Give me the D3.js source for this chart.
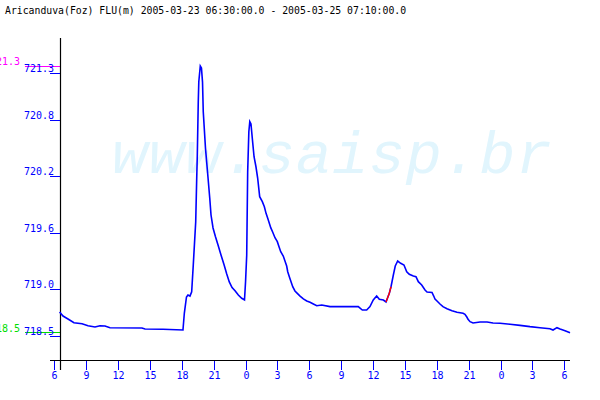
<!DOCTYPE html>
<html><head><meta charset="utf-8">
<script src="https://cdn.jsdelivr.net/npm/d3@7"></script>
<style>html,body{margin:0;padding:0;background:#fff;}svg{display:block;}</style>
</head><body>
<script>
const titleText = "Aricanduva(Foz) FLU(m) 2005-03-23 06:30:00.0 - 2005-03-25 07:10:00.0";
const watermark = "www.saisp.br";
// hours since 2005-03-23 00:00
const hours = [6.5,6.82,7.29,7.85,8.61,9.17,9.83,10.30,10.77,11.24,14.25,14.54,16.23,18.11,18.24,18.44,18.58,18.77,18.93,19.08,19.31,19.40,19.46,19.55,19.60,19.74,19.85,19.95,20.02,20.23,20.42,20.63,20.75,20.94,21.17,21.41,21.69,21.97,22.23,22.47,22.73,23.01,23.32,23.64,23.90,24.00,24.11,24.20,24.31,24.40,24.51,24.65,24.80,24.98,25.14,25.33,25.58,25.77,25.93,26.11,26.37,26.56,26.77,26.99,27.15,27.31,27.55,27.71,27.87,27.97,28.12,28.28,28.44,28.65,28.87,29.13,29.44,29.76,30.07,30.38,30.70,31.17,31.95,34.61,34.99,35.40,35.71,36.02,36.34,36.59,36.97,37.22,37.53,37.69,37.91,38.09,38.32,38.60,38.91,39.17,39.41,39.79,40.04,40.26,40.58,40.89,41.08,41.55,41.71,41.83,42.02,42.30,42.58,42.96,43.43,43.90,44.47,44.65,44.84,44.94,45.13,45.41,46.07,46.73,47.29,47.95,48.89,49.83,50.77,51.71,52.65,52.94,53.31,53.60,54.07,54.54];
const levels = [718.755,718.712,718.681,718.641,718.630,718.609,718.595,718.609,718.606,718.588,718.585,718.574,718.571,718.563,718.744,718.915,718.936,718.925,718.971,719.256,719.717,720.161,720.427,720.995,721.208,721.375,721.354,721.204,720.888,720.498,720.249,719.969,719.788,719.650,719.557,719.469,719.362,719.261,719.160,719.075,719.016,718.982,718.936,718.901,718.883,719.078,719.362,720.249,720.675,720.782,720.757,720.587,720.409,720.302,720.182,719.983,719.930,719.876,719.806,719.745,719.653,719.604,719.546,719.504,719.450,719.397,719.351,719.298,719.245,719.184,719.131,719.078,719.024,718.979,718.954,718.925,718.894,718.872,718.858,718.840,718.822,718.830,718.812,718.812,718.776,718.776,718.812,718.883,718.925,718.890,718.883,718.862,718.954,719.024,719.149,719.245,719.298,719.274,719.256,719.184,719.157,719.138,719.131,719.078,719.043,718.989,718.968,718.963,718.925,718.894,718.872,718.840,718.812,718.790,718.769,718.752,718.741,718.731,718.699,718.677,718.652,718.638,718.649,718.649,718.638,718.635,718.624,718.613,718.599,718.588,718.577,718.563,718.588,718.574,718.556,718.535];
// segment flagged in red (hours)
const flaggedRange = [37.22, 37.69];
const xTickValues = [6,9,12,15,18,21,24,27,30,33,36,39,42,45,48,51,54];
const yTickValues = [718.5,719.0,719.6,720.2,720.8,721.3];
const yTickLabels = ["718.5","719.0","719.6","720.2","720.8","721.3"];
const maxLabel = "721.3", minLabel = "718.5";

const W = 600, H = 400;
const svg = d3.select("body").append("svg").attr("width", W).attr("height", H);
svg.append("rect").attr("width", W).attr("height", H).attr("fill", "#fff");

const x = d3.scaleLinear().domain([6, 54]).range([54.3, 564.3]);
const y = d3.scaleLinear().domain([719.0, 720.8]).range([289, 120]);
const mono = "'DejaVu Sans Mono', 'Liberation Mono', monospace";

// watermark
svg.append("text").attr("x", 112).attr("y", 173)
  .attr("font-family", "'Liberation Mono', 'Courier New', monospace")
  .attr("font-style", "italic").attr("font-size", 60)
  .attr("fill", "#e1f5fd").attr("textLength", 440).attr("lengthAdjust", "spacing")
  .text(watermark);

// title
svg.append("text").attr("x", 5).attr("y", 14).attr("font-family", mono)
  .attr("font-size", 9.8).attr("fill", "#000").text(titleText);

const data = hours.map((h, i) => ({h, v: levels[i]}));
const vMax = d3.max(levels), vMin = d3.min(levels);

// max / min reference lines
svg.append("line").attr("x1", 25).attr("x2", 60).attr("y1", y(vMax)).attr("y2", y(vMax))
  .attr("stroke", "#ff00ff").attr("stroke-width", 1).attr("shape-rendering", "crispEdges");
svg.append("text").attr("x", 20).attr("y", y(vMax) - 1).attr("text-anchor", "end")
  .attr("font-family", mono).attr("font-size", 10).attr("fill", "#ff00ff").text(maxLabel);
svg.append("line").attr("x1", 25).attr("x2", 60).attr("y1", y(vMin)).attr("y2", y(vMin))
  .attr("stroke", "#00dd00").attr("stroke-width", 1).attr("shape-rendering", "crispEdges");
svg.append("text").attr("x", 20).attr("y", y(vMin) - 1).attr("text-anchor", "end")
  .attr("font-family", mono).attr("font-size", 10).attr("fill", "#00dd00").text(minLabel);

// y axis
const gy = svg.append("g");
gy.append("line").attr("x1", 60.5).attr("x2", 60.5).attr("y1", 38).attr("y2", 370)
  .attr("stroke", "#000").attr("stroke-width", 1.2);
yTickValues.forEach((v, i) => {
  const yy = Math.round(y(v)) + 0.5;
  gy.append("line").attr("x1", 50).attr("x2", 60).attr("y1", yy).attr("y2", yy)
    .attr("stroke", "#0000ff").attr("stroke-width", 1);
  gy.append("text").attr("x", 54).attr("y", yy - 1.5).attr("text-anchor", "end")
    .attr("font-family", mono).attr("font-size", 10).attr("fill", "#0000ff").text(yTickLabels[i]);
});

// x axis
const gx = svg.append("g");
gx.append("line").attr("x1", 50).attr("x2", 570).attr("y1", 360.5).attr("y2", 360.5)
  .attr("stroke", "#000").attr("stroke-width", 1.2);
xTickValues.forEach(h => {
  const xx = Math.round(x(h)) + 0.5;
  gx.append("line").attr("x1", xx).attr("x2", xx).attr("y1", 361).attr("y2", 370)
    .attr("stroke", "#0000ff").attr("stroke-width", 1);
  gx.append("text").attr("x", xx).attr("y", 379).attr("text-anchor", "middle")
    .attr("font-family", mono).attr("font-size", 10).attr("fill", "#0000ff").text(h % 24);
});

// series
const line = d3.line().x(d => x(d.h)).y(d => y(d.v));
svg.append("path").datum(data).attr("d", line).attr("fill", "none")
  .attr("stroke", "#0000ff").attr("stroke-width", 1.6);
const flagged = data.filter(d => d.h >= flaggedRange[0] && d.h <= flaggedRange[1]);
svg.append("path").datum(flagged).attr("d", line).attr("fill", "none")
  .attr("stroke", "#ff0000").attr("stroke-width", 1.4);
</script>
</body></html>
